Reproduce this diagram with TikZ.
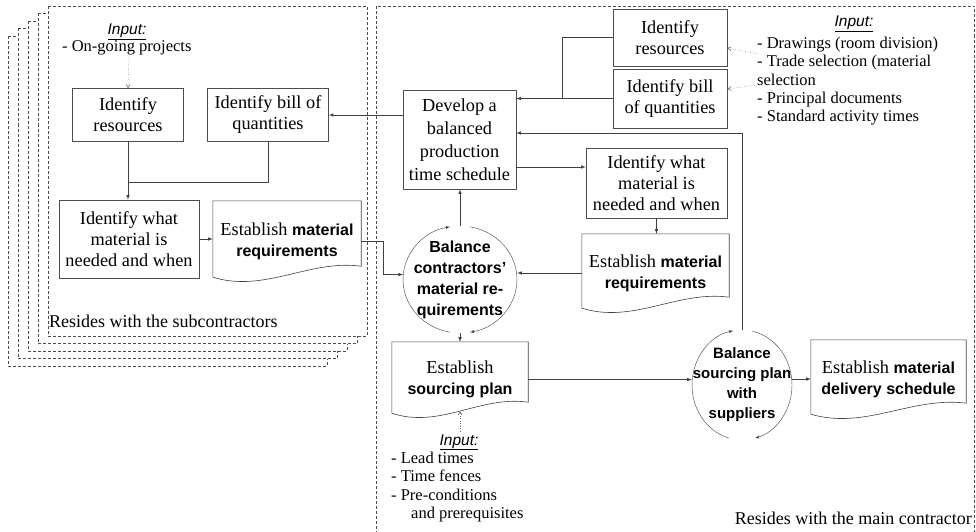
\documentclass[tikz,border=0pt]{standalone}
\usepackage{fontspec}
\setmainfont{Liberation Serif}
\setsansfont{Liberation Sans}
\usetikzlibrary{arrows,shapes.geometric,calc}

\newcommand{\txtsz}{\fontsize{18.3}{21}\selectfont}
\newcommand{\listsz}{\fontsize{16.5}{18.2}\selectfont}
\newcommand{\inpsz}{\fontsize{15.5}{18}\selectfont\sffamily\itshape}
\newcommand{\cycsz}{\fontsize{16}{21}\selectfont\sffamily\bfseries}
\newcommand{\bsf}[1]{{\fontsize{16}{21}\selectfont\sffamily\bfseries #1}}
% wavy outline of a document node
\newcommand{\docedge}[1]{%
  \draw[line] (#1.north west) -- (#1.north east) -- ($(#1.south east)+(0,-15)$)
    .. controls ($(#1.south east)!0.35!(#1.south west)+(0,-22)$)
    and ($(#1.south east)!0.65!(#1.south west)+(0,12)$) .. ($(#1.south west)+(0,-4)$) -- cycle;}

\tikzset{
  box/.style={draw=black!70, line width=0.6pt, inner sep=1pt, align=center, font=\txtsz},
  doc/.style={inner sep=1pt, align=center, font=\txtsz},
  cyc/.style={ellipse, inner sep=-15pt, align=center, font=\cycsz},
  line/.style={draw=black!75, line width=0.6pt},
  link/.style={line, ->, >=latex},
  ring/.style={draw=black!70, line width=0.45pt, ->, >=latex},
  hint/.style={draw=black!60, line width=0.5pt, dotted, ->, >=angle 60},
  page/.style={draw=black!70, line width=0.5pt, dash pattern=on 3pt off 2pt, fill=white},
}

\begin{document}
\begin{tikzpicture}[x=1pt, y=-1pt]
  \useasboundingbox (0,0) rectangle (976,532);

  % subcontractor pages and main contractor frame
  \foreach \k in {4,3,2,1}
    \draw[page] (48-10*\k, 6+7.5*\k) rectangle (367-10*\k, 336+7.5*\k);
  \draw[page] (48,6) rectangle (367,336);
  \draw[page, fill=none] (376,6) rectangle (974.5,545);

  % subcontractor side
  \node[font=\inpsz, anchor=base] (sin) at (127,35) {\underline{Input:}};
  \node[font=\listsz, anchor=base west, inner sep=0pt] (slist) at (62,52) {- On-going projects};
  \coordinate (sl) at (129,57);
  \node[box, minimum width=111pt, minimum height=53pt] (sres) at (128,115) {Identify\\resources};
  \node[box, minimum width=121pt, minimum height=53pt] (sboq) at (268,115) {Identify bill of\\quantities};
  \node[box, minimum width=140pt, minimum height=78pt] (swhat) at (129,239) {Identify what\\material is\\needed and when};
  \node[doc, minimum width=148pt, minimum height=80pt] (sreq) at (287,241) {Establish \bsf{material}\\\bsf{requirements}};
  \docedge{sreq}
  \node[font=\fontsize{18}{21}\selectfont, anchor=base west, inner sep=0pt] (ssub) at (49,327) {Resides with the subcontractors};
  \coordinate (sj) at (128,182);

  % main contractor side
  \node[box, minimum width=114pt, minimum height=57pt] (mres) at (670,37.5) {Identify\\resources};
  \node[box, minimum width=114pt, minimum height=59pt] (mboq) at (670,98.5) {Identify bill\\of quantities};
  \node[font=\inpsz, anchor=base] (min) at (854,27) {\underline{Input:}};
  \node[font=\listsz, anchor=north west, align=left, inner sep=0pt] (mlist) at (757,37)
    {- Drawings (room division)\\- Trade selection (material\\selection\\- Principal documents\\- Standard activity times};
  \coordinate (t1) at (758,54);
  \coordinate (t2) at (757,85);
  \node[box, font=\fontsize{18.3}{23}\selectfont, minimum width=113pt, minimum height=99pt] (dev) at (459.5,139.5)
    {Develop a\\balanced\\production\\time schedule};
  \node[box, minimum width=141pt, minimum height=70pt] (mwhat) at (656.5,183) {Identify what\\material is\\needed and when};
  \node[doc, minimum width=147pt, minimum height=78pt] (mreq) at (655.5,273) {Establish \bsf{material}\\\bsf{requirements}};
  \docedge{mreq}
  \node[cyc, minimum width=114pt, minimum height=107pt] (bal1) at (460,279.5)
    {Balance\\contractors'\\material re-\\quirements};
  \node[doc, minimum width=136pt, minimum height=75pt] (ssrc) at (460,379.5) {Establish\\\bsf{sourcing plan}};
  \docedge{ssrc}
  \node[font=\inpsz, anchor=base] (bin) at (459,445) {\underline{Input:}};
  \node[font=\listsz, anchor=north west, align=left, inner sep=0pt] (blist) at (391,452)
    {- Lead times\\- Time fences\\- Pre-conditions\\\hspace*{20pt}and prerequisites};
  \coordinate (bl) at (460,431);
  \node[cyc, font=\fontsize{15}{20}\selectfont\sffamily\bfseries, minimum width=100pt, minimum height=110pt] (bal2) at (742,385)
    {Balance\\sourcing plan\\with\\suppliers};
  \node[doc, minimum width=155pt, minimum height=78pt] (deliv) at (888.5,379) {Establish \bsf{material}\\\bsf{delivery schedule}};
  \docedge{deliv}
  \node[font=\fontsize{18}{21}\selectfont, anchor=base east, inner sep=0pt] (smain) at (972,524) {Resides with the main contractor};

  % balancing loops
  \draw[ring] ($(bal1.center)+(260:57pt and 53.5pt)$) arc[start angle=260, end angle=100, x radius=57pt, y radius=53.5pt];
  \draw[ring] ($(bal1.center)+(80:57pt and 53.5pt)$) arc[start angle=80, end angle=-80, x radius=57pt, y radius=53.5pt];
  \draw[ring] ($(bal2.center)+(255:50pt and 55pt)$) arc[start angle=255, end angle=100, x radius=50pt, y radius=55pt];
  \draw[ring] ($(bal2.center)+(78:50pt and 55pt)$) arc[start angle=78, end angle=-75, x radius=50pt, y radius=55pt];

  % connectors
  \draw[hint] (sl) -- (sres.north);
  \draw[link] (sres.south) -- (sres.south |- swhat.north);
  \draw[line] (sboq.south) |- (sj);
  \draw[link] (swhat.east) -- (swhat.east -| sreq.west);
  \draw[link] (sreq.east) -- ++(22,0) |- (bal1.175);
  \draw[link] (dev.west |- sboq.east) -- (sboq.east);
  \draw[line] (mres.west) -| ($(mboq.west)+(-50,0)$);
  \draw[link] (mboq.west) -- (mboq.west -| dev.east);
  \draw[link] (bal2.north) |- ([yshift=6.5pt]dev.east);
  \draw[link] ([yshift=-27.5pt]dev.east) -- ([yshift=-27.5pt]dev.east -| mwhat.west);
  \draw[link] (mwhat.south) -- (mwhat.south |- mreq.north);
  \draw[link] (mreq.west) -- (mreq.west -| bal1.east);
  \draw[link] (bal1.north) -- (bal1.north |- dev.south);
  \draw[link] (bal1.south) -- (bal1.south |- ssrc.north);
  \draw[link] (ssrc.east) -- (ssrc.east -| bal2.west);
  \draw[link] (deliv.west -| bal2.east) -- (deliv.west);
  \draw[hint] (bl) -- ([yshift=6pt]ssrc.south);
  \draw[hint] (t1) -- ([yshift=-10.5pt]mres.east);
  \draw[hint] (t2) -- ([yshift=9.5pt]mboq.east);
\end{tikzpicture}
\end{document}
